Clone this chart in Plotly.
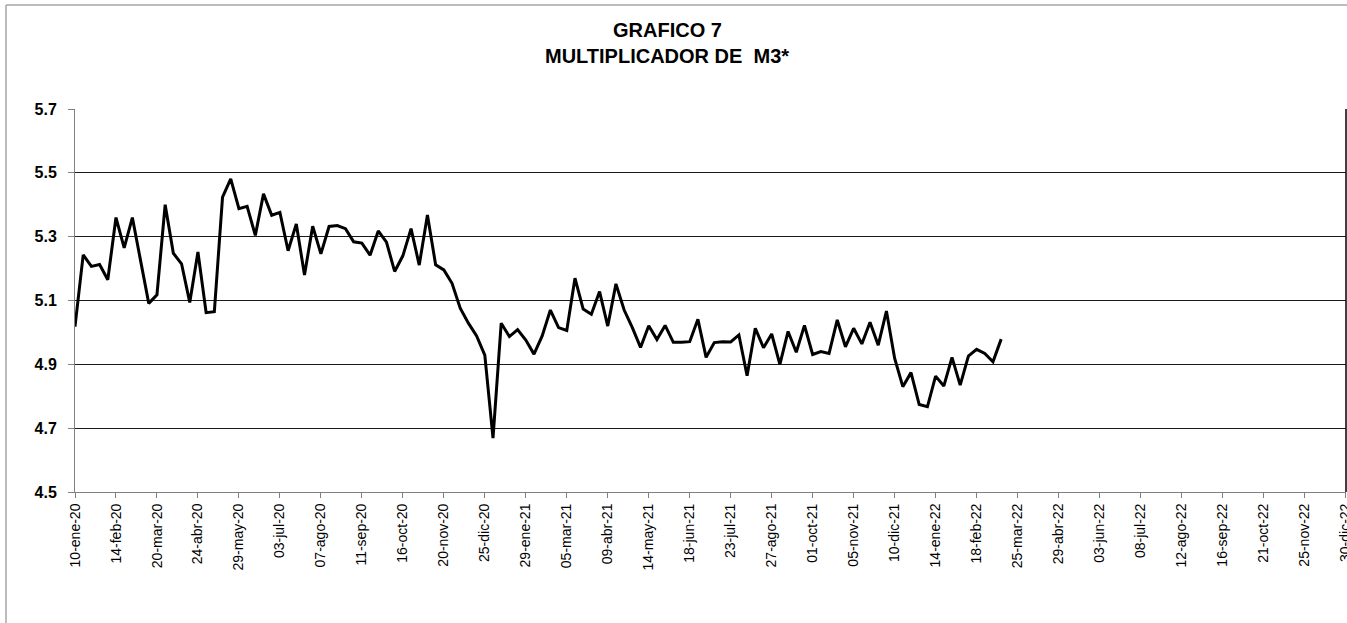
import pandas as pd
import plotly.graph_objects as go

# Weekly dates (Fridays) starting 10-ene-2020
start_date = "2020-01-10"
n_weeks = 114
dates = pd.date_range(start_date, periods=n_weeks, freq="7D")

multiplicador = [
    5.018, 5.243, 5.207, 5.213, 5.165, 5.360, 5.265, 5.360, 5.225, 5.091,
    5.118, 5.400, 5.248, 5.215, 5.094, 5.252, 5.062, 5.065, 5.424, 5.481,
    5.388, 5.395, 5.304, 5.434, 5.367, 5.376, 5.256, 5.340, 5.180, 5.333,
    5.246, 5.332, 5.335, 5.325, 5.284, 5.280, 5.242, 5.318, 5.283, 5.191,
    5.240, 5.325, 5.211, 5.368, 5.212, 5.196, 5.154, 5.076, 5.029, 4.989,
    4.929, 4.669, 5.029, 4.987, 5.009, 4.976, 4.932, 4.989, 5.070, 5.015,
    5.006, 5.170, 5.073, 5.057, 5.128, 5.020, 5.152, 5.070, 5.015, 4.953,
    5.021, 4.978, 5.022, 4.969, 4.969, 4.971, 5.041, 4.922, 4.968, 4.971,
    4.970, 4.992, 4.864, 5.013, 4.952, 4.995, 4.900, 5.003, 4.938, 5.022,
    4.931, 4.940, 4.934, 5.039, 4.955, 5.013, 4.964, 5.032, 4.960, 5.067,
    4.919, 4.830, 4.874, 4.774, 4.767, 4.863, 4.832, 4.922, 4.835, 4.926,
    4.947, 4.934, 4.908, 4.979,
]

tick_dates = pd.date_range(start_date, "2022-12-30", freq="35D")
tick_labels = [
    "10-ene-20", "14-feb-20", "20-mar-20", "24-abr-20", "29-may-20", "03-jul-20",
    "07-ago-20", "11-sep-20", "16-oct-20", "20-nov-20", "25-dic-20", "29-ene-21",
    "05-mar-21", "09-abr-21", "14-may-21", "18-jun-21", "23-jul-21", "27-ago-21",
    "01-oct-21", "05-nov-21", "10-dic-21", "14-ene-22", "18-feb-22", "25-mar-22",
    "29-abr-22", "03-jun-22", "08-jul-22", "12-ago-22", "16-sep-22", "21-oct-22",
    "25-nov-22", "30-dic-22",
]

y_ticks = [4.5, 4.7, 4.9, 5.1, 5.3, 5.5, 5.7]
y_labels = ["4.5", "4.7", "4.9", "5.1", "5.3", "5.5", "5.7"]

title_line1 = "GRAFICO 7"
title_line2 = "MULTIPLICADOR DE\u00a0 M3*"

FONT = "Liberation Sans, Arial, sans-serif"

# plot-area geometry in pixels (used only to place the title / outer frame)
PL, PR, PT, PB = 75, 1346, 109, 492
W_P, H_P = PR - PL, PB - PT


def px_x(x):
    return (x - PL) / W_P


def px_y(y):
    return (PB - y) / H_P


fig = go.Figure()
fig.add_trace(go.Scatter(
    x=dates, y=multiplicador, mode="lines",
    line=dict(color="black", width=3),
    showlegend=False,
))

x_end = tick_dates[-1] + pd.Timedelta(hours=12)

title_font = dict(size=20, family=FONT, color="black", weight="bold")

fig.update_layout(
    width=1347, height=623,
    margin=dict(l=PL, r=1347 - PR, t=PT, b=623 - PB, autoexpand=False),
    paper_bgcolor="white", plot_bgcolor="white",
    font=dict(family=FONT, color="black"),
    xaxis=dict(
        type="date", automargin=False,
        range=[tick_dates[0], x_end],
        tickmode="array", tickvals=list(tick_dates), ticktext=tick_labels,
        tickangle=-90, tickfont=dict(size=14, family=FONT, color="black"),
        ticklabeloverflow="allow",
        ticks="outside", ticklen=5, tickcolor="#808080", tickwidth=1,
        showline=True, linecolor="#808080", linewidth=1,
        showgrid=False, zeroline=False,
    ),
    yaxis=dict(
        automargin=False,
        range=[4.5, 5.7],
        tickmode="array", tickvals=y_ticks, ticktext=y_labels,
        tickfont=dict(size=16, family=FONT, color="black", weight="bold"),
        ticks="outside", ticklen=6, tickcolor="#808080", tickwidth=1,
        ticklabelstandoff=8,
        showline=True, linecolor="#808080", linewidth=1,
        showgrid=True, gridcolor="#1a1a1a", gridwidth=1,
        zeroline=False,
    ),
    annotations=[
        dict(text=title_line1, xref="paper", yref="paper",
             x=px_x(667), y=px_y(30), xanchor="center", yanchor="middle",
             showarrow=False, font=title_font),
        dict(text=title_line2, xref="paper", yref="paper",
             x=px_x(667), y=px_y(56), xanchor="center", yanchor="middle",
             showarrow=False, font=title_font),
    ],
    shapes=[
        # right border of plot area
        dict(type="line", xref="paper", yref="paper", x0=1, x1=1, y0=0, y1=1,
             line=dict(color="black", width=1.5)),
        # outer chart frame (left and top)
        dict(type="line", xref="paper", yref="paper",
             x0=px_x(6), x1=px_x(6), y0=px_y(5), y1=px_y(640),
             line=dict(color="#a6a6a6", width=1.5)),
        dict(type="line", xref="paper", yref="paper",
             x0=px_x(6), x1=px_x(1400), y0=px_y(5), y1=px_y(5),
             line=dict(color="#a6a6a6", width=1.5)),
    ],
)

fig.write_html(
    "out.html",
    config={"displayModeBar": False},
    post_script="document.body.style.margin='0';document.body.style.overflow='hidden';",
)
